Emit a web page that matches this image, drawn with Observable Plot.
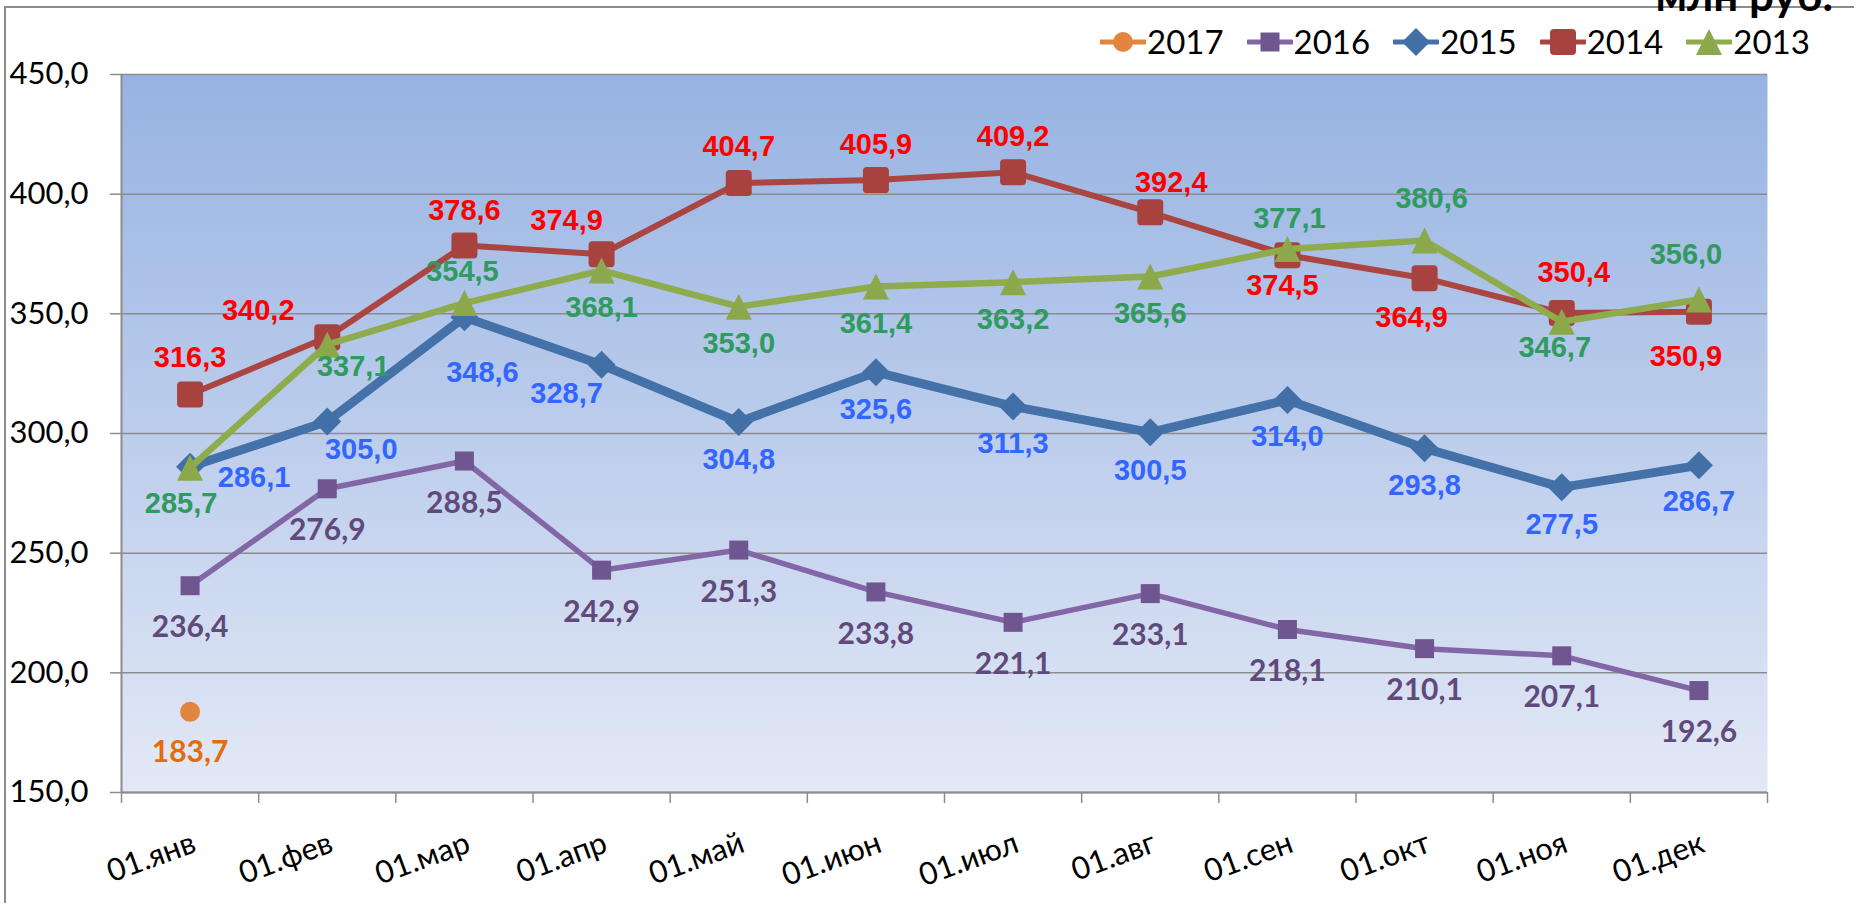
<!DOCTYPE html>
<html>
<head>
<meta charset="utf-8">
<script src="https://cdn.jsdelivr.net/npm/d3@7"></script>
<script src="https://cdn.jsdelivr.net/npm/@observablehq/plot@0.6"></script>
<style>
  html, body { margin: 0; padding: 0; background: #ffffff; }
  body { width: 1874px; height: 903px; overflow: hidden; position: relative; font-family: Lato, "Noto Sans", sans-serif; }
  #legend { position: relative; height: 62px; }
  #legendRow { position: absolute; left: 1100px; top: 22px; height: 40px; display: flex; align-items: center; }
  .item { display: flex; align-items: center; margin-right: 23px; }
  .item svg { display: block; margin-right: 1px; }
  .item span { font-family: Lato, sans-serif; font-size: 33px; color: #000; line-height: 1.2; }
  #unit { position: absolute; right: 41px; top: -28px; font: bold 44px/1 Lato, sans-serif; color: #000; white-space: nowrap; }
  .bl { position: absolute; left: 4px; top: 6px; width: 2px; height: 897px; background: #8c8c8c; }
  .bt { position: absolute; left: 4px; top: 6px; width: 1850px; height: 1.5px; background: #8c8c8c; }
  #chart svg { display: block; }
</style>
</head>
<body>
<div class="bt"></div>
<div class="bl"></div>
<div id="unit">млн руб.</div>
<div id="legend"><div id="legendRow"></div></div>
<div id="chart"></div>
<script>
// ---------- data ----------
const months = ["01.янв","01.фев","01.мар","01.апр","01.май","01.июн","01.июл","01.авг","01.сен","01.окт","01.ноя","01.дек"];
const v2013 = [285.7, 337.1, 354.5, 368.1, 353.0, 361.4, 363.2, 365.6, 377.1, 380.6, 346.7, 356.0];
const v2014 = [316.3, 340.2, 378.6, 374.9, 404.7, 405.9, 409.2, 392.4, 374.5, 364.9, 350.4, 350.9];
const v2015 = [286.1, 305.0, 348.6, 328.7, 304.8, 325.6, 311.3, 300.5, 314.0, 293.8, 277.5, 286.7];
const v2016 = [236.4, 276.9, 288.5, 242.9, 251.3, 233.8, 221.1, 233.1, 218.1, 210.1, 207.1, 192.6];
const v2017 = [183.7];
const yTicks = [150, 200, 250, 300, 350, 400, 450];
const legendYears = ["2017", "2016", "2015", "2014", "2013"];

// ---------- label placement (pixel offsets from each point, like Excel's data labels) ----------
const off2013 = [[-9,36],[26,22],[-2,-31],[0,37],[0,37],[0,37],[0,37],[0,37],[2,-30],[7,-42],[-7,26],[-13,-45]];
const off2014 = [[0,-37],[-69,-27],[0,-35],[-35,-34],[0,-36],[0,-35],[0,-35],[21,-30],[-5,31],[-13,40],[12,-40],[-13,45]];
const off2015 = [[64,11],[34,28],[18,56],[-35,29],[0,38],[0,37],[0,37],[0,38],[0,37],[0,37],[0,37],[0,36]];
const off2016 = months.map(() => [0, 42]);
const off2017 = [[0, 41]];

// ---------- custom marker symbols ----------
const rad = size => Math.sqrt(size / Math.PI);
const symRoundSquare = { draw(ctx, size) { const r = rad(size), c = r * 0.3;
  ctx.moveTo(-r + c, -r); ctx.arcTo(r, -r, r, r, c); ctx.arcTo(r, r, -r, r, c);
  ctx.arcTo(-r, r, -r, -r, c); ctx.arcTo(-r, -r, r, -r, c); ctx.closePath(); } };
const symSquare = { draw(ctx, size) { const r = rad(size);
  ctx.moveTo(-r, -r); ctx.lineTo(r, -r); ctx.lineTo(r, r); ctx.lineTo(-r, r); ctx.closePath(); } };
const symDiamond = { draw(ctx, size) { const r = rad(size);
  ctx.moveTo(0, -r); ctx.lineTo(r, 0); ctx.lineTo(0, r); ctx.lineTo(-r, 0); ctx.closePath(); } };
const symTriangle = { draw(ctx, size) { const r = rad(size);
  ctx.moveTo(0, -r); ctx.lineTo(r, r); ctx.lineTo(-r, r); ctx.closePath(); } };
const symCircle = { draw(ctx, size) { const r = rad(size); ctx.moveTo(r, 0); ctx.arc(0, 0, r, 0, 2 * Math.PI); } };

const LIB = "'Liberation Sans', Arial, sans-serif";
const LATO = "Lato, sans-serif";

// drawing order: purple, blue, red, green, orange
const series = [
  { name: "2016", values: v2016, offs: off2016, line: "#8366a5", marker: "#6f5690", width: 5.5, symbol: symSquare, r: 9.5, label: "#5f4a7b", font: LATO, fsize: 30 },
  { name: "2015", values: v2015, offs: off2015, line: "#4471a8", marker: "#4270a6", width: 9, symbol: symDiamond, r: 14, label: "#3366ff", font: LIB, fsize: 29 },
  { name: "2014", values: v2014, offs: off2014, line: "#ab4542", marker: "#a8423f", width: 6, symbol: symRoundSquare, r: 13, label: "#ff0000", font: LIB, fsize: 29 },
  { name: "2013", values: v2013, offs: off2013, line: "#8fac4d", marker: "#8ba84a", width: 6.5, symbol: symTriangle, r: 13, label: "#2f9b5e", font: LIB, fsize: 29 },
  { name: "2017", values: v2017, offs: off2017, line: "#e2853f", marker: "#e2853f", width: 0, symbol: symCircle, r: 10, label: "#e46c0a", font: LATO, fsize: 30 }
];

const fmt1 = v => v.toFixed(1).replace(".", ",");

const seriesMarks = [];
const labelMarks = [];
for (const s of series) {
  const data = s.values.map((v, i) => ({ x: i + 0.5, v, i }));
  if (data.length > 1) seriesMarks.push(Plot.line(data, { x: "x", y: "v", stroke: s.line, strokeWidth: s.width, strokeLinejoin: "round", strokeLinecap: "round" }));
  seriesMarks.push(Plot.dot(data, { x: "x", y: "v", symbol: s.symbol, r: s.r, fill: s.marker, stroke: "none" }));
  for (const d of data) {
    const [dx, dy] = s.offs[d.i];
    labelMarks.push(Plot.text([d], { x: "x", y: "v", text: dd => fmt1(dd.v), dx, dy, fill: s.label, fontSize: s.fsize, fontWeight: "bold", fontFamily: s.font, lineAnchor: "middle", textAnchor: "middle" }));
  }
}

const monthRecs = months.map((m, i) => ({ m, x: i + 0.5 }));
const boundaries = d3.range(months.length + 1);

const plot = Plot.plot({
  width: 1874,
  height: 841,
  marginLeft: 121,
  marginRight: 107,
  marginTop: 12,
  marginBottom: 111,
  x: { domain: [0, months.length], label: null },
  y: { domain: [150, 450], label: null },
  style: { fontFamily: LATO, color: "#000", background: "transparent", overflow: "visible" },
  marks: [
    Plot.frame({ fill: "#b0c4ea", stroke: "none" }),
    Plot.ruleY(yTicks, { stroke: "#8c8c8c", strokeWidth: 1.5 }),
    Plot.axisY({ ticks: yTicks, label: null, tickSize: 11, tickPadding: 22, tickFormat: fmt1, fontSize: 31, stroke: "#8c8c8c", strokeWidth: 1.5 }),
    Plot.axisX({ ticks: boundaries, label: null, tickSize: 11, tickFormat: () => "", stroke: "#8c8c8c", strokeWidth: 1.5 }),
    Plot.ruleX([0], { stroke: "#8c8c8c", strokeWidth: 2 }),
    Plot.ruleY([150], { stroke: "#8c8c8c", strokeWidth: 2 }),
    ...seriesMarks,
    ...labelMarks,
    Plot.text(monthRecs, { x: "x", text: "m", frameAnchor: "bottom", dy: 38, rotate: -20, textAnchor: "end", lineAnchor: "top", fontSize: 31, fill: "#000" })
  ]
});

// gradient background of the plot area
const ns = "http://www.w3.org/2000/svg";
const defs = document.createElementNS(ns, "defs");
defs.innerHTML = '<linearGradient id="bgGrad" x1="0" y1="0" x2="0" y2="1">' +
  '<stop offset="0" stop-color="#97b3e2"/><stop offset="0.5" stop-color="#bccdec"/><stop offset="1" stop-color="#e3e9f6"/></linearGradient>';
plot.insertBefore(defs, plot.firstChild);
plot.querySelectorAll('[aria-label="frame"], [aria-label="frame"] rect').forEach(el => el.setAttribute("fill", "url(#bgGrad)"));
document.getElementById("chart").appendChild(plot);

// ---------- legend ----------
const legendStyle = {
  "2017": series[4], "2016": series[0], "2015": series[1], "2014": series[2], "2013": series[3]
};
const row = d3.select("#legendRow");
for (const y of legendYears) {
  const s = legendStyle[y];
  const item = row.append("div").attr("class", "item");
  const svg = item.append("svg").attr("width", 46).attr("height", 32);
  svg.append("line").attr("x1", 1).attr("x2", 45).attr("y1", 16).attr("y2", 16)
    .attr("stroke", s.line).attr("stroke-width", 5).attr("stroke-linecap", "round");
  svg.append("path").attr("transform", "translate(23,16)")
    .attr("d", d3.symbol(s.symbol, Math.PI * s.r * s.r)()).attr("fill", s.marker);
  item.append("span").text(y);
}
</script>
</body>
</html>
